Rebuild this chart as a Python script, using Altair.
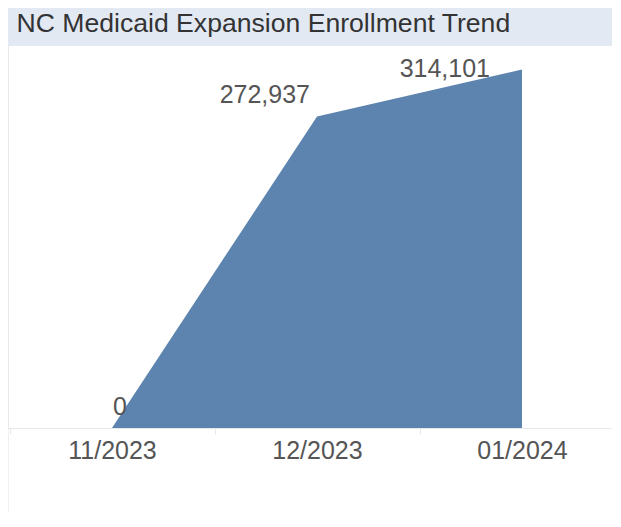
import altair as alt
import pandas as pd

# ---- data ----
months = ["11/2023", "12/2023", "01/2024"]
enrollment = [0, 272937, 314101]
title_text = ["NC Medicaid Expansion Enrollment Trend"]

df = pd.DataFrame({"month": months, "enrollment": enrollment})
df["label"] = [f"{v:,}" for v in enrollment]
title_df = pd.DataFrame({"t": title_text})

W = 604
H = 420
BOTTOM = 84
FONT = "Liberation Sans"
AREA = "#5d84ae"
BAND = "#e2e9f3"
LINE = "#e8e8e8"

x_enc = alt.X(
    "month:N",
    sort=months,
    bandPosition=0.5,
    scale=alt.Scale(type="band", range=[1.5, 616.5], paddingInner=0, paddingOuter=0),
    axis=alt.Axis(
        title=None, labelAngle=0, labelFontSize=25, labelFont=FONT,
        labelColor="#555555", domainColor=LINE, tickColor=LINE,
        tickBand="extent", tickSize=6, labelPadding=4, grid=False,
    ),
)
y_enc = alt.Y(
    "enrollment:Q",
    scale=alt.Scale(domain=[0, 314101], range=[H, 61.5], nice=False, zero=True),
    axis=None,
)

base = alt.Chart(df)

area = base.mark_area(color=AREA).encode(x=x_enc, y=y_enc)


def label_layer(month, align, dx, dy):
    return (
        base.transform_filter(alt.datum.month == month)
        .mark_text(align=align, baseline="alphabetic", dx=dx, dy=dy,
                   fontSize=25, font=FONT, color="#555555")
        .encode(x=x_enc, y=y_enc, text="label:N")
    )


lab0 = label_layer("11/2023", "left", 1, -13)
lab1 = label_layer("12/2023", "right", -7, -13.5)
lab2 = label_layer("01/2024", "right", -32, 7.5)

title_bar = alt.Chart(title_df).mark_rect(color=BAND).encode(
    x=alt.value(-1), x2=alt.value(W), y=alt.value(0), y2=alt.value(38)
)
title = alt.Chart(title_df).mark_text(
    align="left", baseline="alphabetic", fontSize=26.6, font=FONT, color="#333333"
).encode(x=alt.value(8.5), y=alt.value(24), text="t:N")

left_rule = alt.Chart(title_df).mark_rule(color="#ececec", strokeWidth=1.5).encode(
    x=alt.value(0), y=alt.value(38), y2=alt.value(H + BOTTOM)
)

chart = (
    alt.layer(title_bar, left_rule, area, lab0, lab1, lab2, title)
    .properties(
        width=W, height=H,
        autosize=alt.AutoSizeParams(type="none"),
        padding={"left": 0, "top": 0, "right": 0, "bottom": BOTTOM},
    )
    .configure_view(stroke=None)
    .configure(background="white")
)

chart.save("out.html", embed_options={"renderer": "svg", "actions": False})
